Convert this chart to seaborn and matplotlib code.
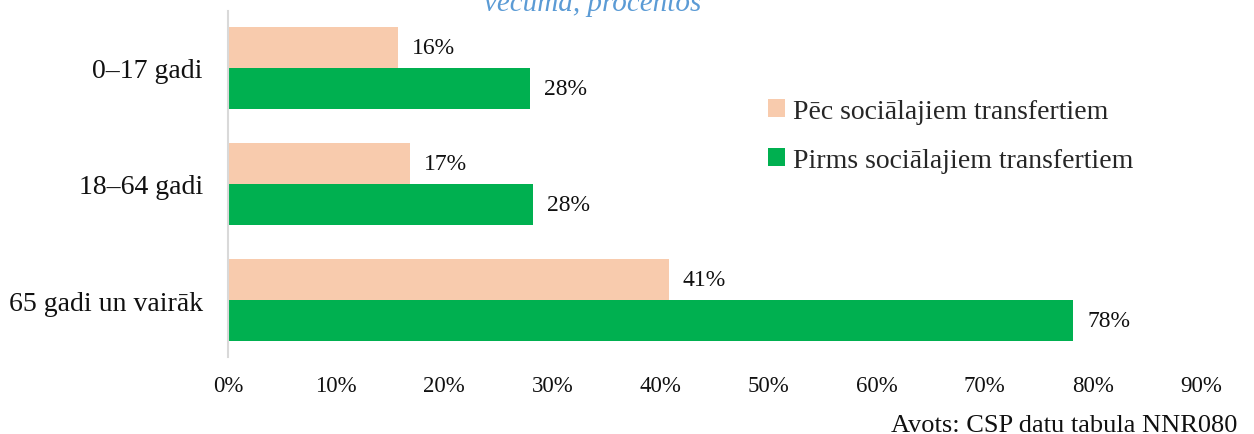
import matplotlib
matplotlib.use("Agg")
import matplotlib.pyplot as plt
import seaborn as sns
import pandas as pd

categories = ["0–17 gadi", "18–64 gadi", "65 gadi un vairāk"]
series_names = ["Pēc sociālajiem transfertiem", "Pirms sociālajiem transfertiem"]
after_transfers = [15.7, 16.8, 40.8]
before_transfers = [27.9, 28.2, 78.2]
x_ticks = [0, 10, 20, 30, 40, 50, 60, 70, 80, 90]
title_text = "vecuma, procentos"
source_text = "Avots: CSP datu tabula NNR080"

df = pd.DataFrame({
    "Vecums": categories * 2,
    "Sērija": [series_names[0]] * 3 + [series_names[1]] * 3,
    "Vērtība": after_transfers + before_transfers,
})

sns.set_theme(style="white")
plt.rcParams["font.family"] = ["Liberation Serif", "DejaVu Serif"]

fig = plt.figure(figsize=(12.54, 4.35), dpi=100)
ax = fig.add_axes([228 / 1254, 1 - 358 / 435, (1201 - 228) / 1254, (358 - 12) / 435])

palette = {series_names[0]: "#F8CBAD", series_names[1]: "#00B050"}
sns.barplot(data=df, y="Vecums", x="Vērtība", hue="Sērija", hue_order=series_names,
            order=categories, palette=palette, width=0.707, gap=0, saturation=1,
            orient="h", ax=ax, legend=True, linewidth=0, edgecolor="none")

for cont in ax.containers:
    ax.bar_label(cont, fmt=lambda v: f"{v:.0f}%", padding=10, fontsize=17, color="#111111")

ax.set_xlim(0, 90)
ax.set_ylim(2.49, -0.49)
ax.set_xticks(x_ticks)
ax.set_xticklabels([f"{t}%" for t in x_ticks], fontsize=16.5, color="#111111")
ax.tick_params(axis="x", length=0, pad=13)
ax.tick_params(axis="y", length=0, pad=18, labelsize=20, labelcolor="#111111")
ax.set_xlabel("")
ax.set_ylabel("")
for s in ["top", "right", "bottom"]:
    ax.spines[s].set_visible(False)
ax.spines["left"].set_color("#D9D9D9")
ax.spines["left"].set_linewidth(1.5)
ax.grid(False)

ax.legend(loc="upper left", bbox_to_anchor=(768 / 1254, 1 - 100 / 435),
          bbox_transform=fig.transFigure, frameon=False, fontsize=20,
          handlelength=0.6, handleheight=0.6, handletextpad=0.3, labelspacing=0.85,
          borderaxespad=0, borderpad=0)

fig.text(593 / 1254, 1 - 11 / 435, title_text, ha="center", va="baseline",
         fontsize=21, style="italic", color="#5B9BD5")
fig.text(1237 / 1254, 1 - 432 / 435, source_text, ha="right", va="baseline",
         fontsize=19, color="#111111")

fig.savefig("out.png", dpi=100)
